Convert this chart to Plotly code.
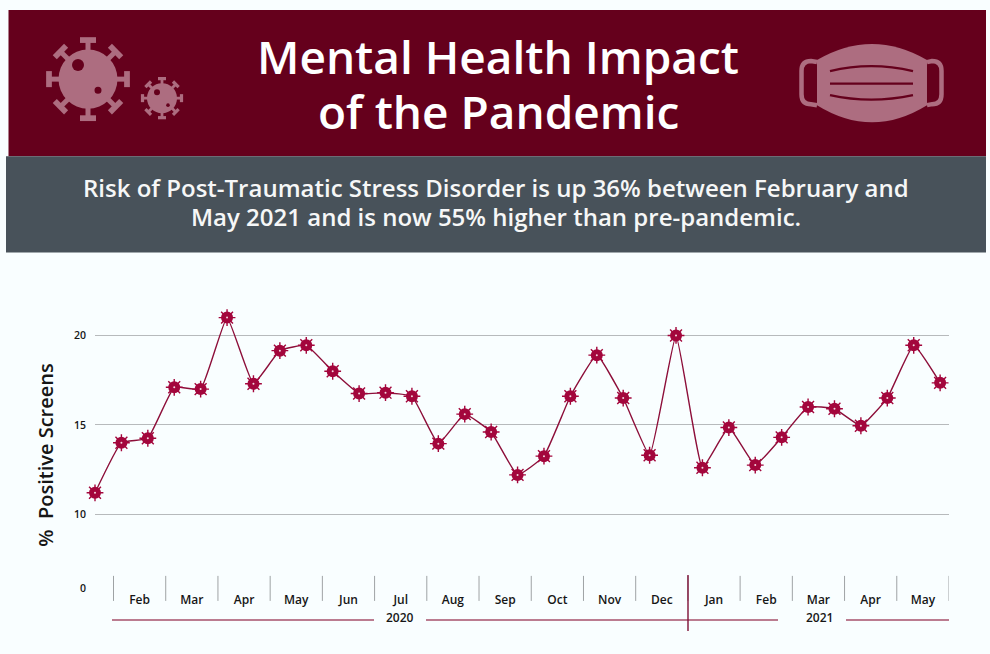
import math
import plotly.graph_objects as go

# ---- data ----
positive_screens = [11.2, 14.0, 14.25, 17.1, 17.0, 21.0, 17.3, 19.15, 19.45, 18.0, 16.75,
                    16.8, 16.6, 13.95, 15.6, 14.6, 12.2, 13.25, 16.6, 18.9, 16.5, 13.3,
                    20.0, 12.6, 14.85, 12.75, 14.3, 16.0, 15.9, 14.95, 16.5, 19.45, 17.35]
months = ["Feb", "Mar", "Apr", "May", "Jun", "Jul", "Aug", "Sep", "Oct", "Nov", "Dec",
          "Jan", "Feb", "Mar", "Apr", "May"]
y_tick_labels = ["0", "10", "15", "20"]
y_tick_values = [5.88, 10, 15, 20]   # the "0" sits on a broken axis
period_index = list(range(len(positive_screens)))

W, H = 990, 662
BG = "#f9feff"
MAROON = "#65001c"
SLATE = "#48525a"
ICON = "#ad6d80"
LINE = "#8d0f3a"
MARK = "#a3063c"
GRID = "#b7babc"
TXT = "#161616"
FONT = "Open Sans"


def px(x):
    return x / W


def py(y):
    return 1 - y / 654


def P(s):
    """pixel path -> paper path"""
    out = []
    for tok in s.split():
        if "," in tok:
            a, b = tok.split(",")
            out.append(f"{px(float(a)):.5f},{py(float(b)):.5f}")
        else:
            out.append(tok)
    return " ".join(out)


shapes = []


def rect(x0, y0, x1, y1, color):
    shapes.append(dict(type="rect", xref="paper", yref="paper", x0=px(x0), x1=px(x1),
                       y0=py(y1), y1=py(y0), fillcolor=color, line_width=0, layer="below"))


def circle(cx, cy, r, color):
    shapes.append(dict(type="circle", xref="paper", yref="paper", x0=px(cx - r), x1=px(cx + r),
                       y0=py(cy + r), y1=py(cy - r), fillcolor=color, line_width=0, layer="below"))


def stroke(path, color, width):
    shapes.append(dict(type="path", xref="paper", yref="paper", path=P(path),
                       line=dict(color=color, width=width), layer="below"))


def fill(path, color):
    shapes.append(dict(type="path", xref="paper", yref="paper", path=P(path),
                       fillcolor=color, line_width=0, layer="below"))


def virus(cx, cy, r, arm, cap, w, holes):
    for k in range(8):
        a = k * math.pi / 4
        c, s = math.cos(a), math.sin(a)
        stroke(f"M {cx + r * c * .9:.2f},{cy + r * s * .9:.2f} L {cx + arm * c:.2f},{cy + arm * s:.2f}", ICON, w)
        stroke(f"M {cx + arm * c - cap * s:.2f},{cy + arm * s + cap * c:.2f} "
               f"L {cx + arm * c + cap * s:.2f},{cy + arm * s - cap * c:.2f}", ICON, w * 1.15)
    circle(cx, cy, r, ICON)
    for hx, hy, hr in holes:
        circle(hx, hy, hr, MAROON)


rect(8.5, 10, 986, 156, MAROON)
rect(6, 156, 986, 252, SLATE)
virus(88, 79, 29.5, 39, 8, 5, [(78, 65, 6), (98, 90, 3.5)])
virus(162, 98, 15, 19.5, 4, 2.8, [(157, 92, 3), (168, 105, 1.8)])

# mask
stroke("M 817,62 L 811,61 Q 801.5,61 801.5,71 L 801.5,94 Q 801.5,104 811,104 L 817,105", ICON, 4.5)
stroke("M 927,62 L 932,61 Q 941.5,61 941.5,71 L 941.5,94 Q 941.5,104 932,104 L 927,105", ICON, 4.5)
fill("M 817,60 Q 872,28 927,60 L 927,105 Q 872,139 817,105 Z", ICON)
stroke("M 830,71 Q 871,61 913,71", MAROON, 2.4)
stroke("M 830,83.5 L 913,83.5", MAROON, 2.4)
stroke("M 830,95 Q 871,104 913,95", MAROON, 2.4)

X_DOM = [95 / W, 949 / W]
Y_DOM = [py(587), py(300)]
k_scale = (949 - 113.5) / 16
x2_range = [-(113.5 - 95) / k_scale, 16]


def x2(pix):
    return (pix - 113.5) / k_scale


# month separators
for k in range(17):
    shapes.append(dict(type="line", xref="x2", yref="paper", x0=k, x1=k, y0=py(600), y1=py(575),
                       line=dict(color="#9fa3a5", width=1)))
# year rules and year divider
for a, b in [(112, 374), (426, 778), (846, 950)]:
    shapes.append(dict(type="line", xref="x2", yref="paper", x0=x2(a), x1=x2(b), y0=py(619), y1=py(619),
                       line=dict(color="#a6506b", width=1.5)))
shapes.append(dict(type="line", xref="x2", yref="paper", x0=x2(688), x1=x2(688), y0=py(630), y1=py(574),
                   line=dict(color="#7e0f35", width=1.4)))

fig = go.Figure()
fig.add_trace(go.Scatter(x=period_index, y=positive_screens, mode="lines", cliponaxis=False,
                         line=dict(color=LINE, width=1.4, shape="spline", smoothing=0.35),
                         hoverinfo="skip", showlegend=False))
fig.add_trace(go.Scatter(x=period_index, y=positive_screens, mode="markers", cliponaxis=False,
                         marker=dict(symbol="asterisk-open", size=14, color=MARK, line=dict(color=MARK, width=1.4)),
                         hoverinfo="skip", showlegend=False))
fig.add_trace(go.Scatter(x=period_index, y=positive_screens, mode="markers", cliponaxis=False,
                         marker=dict(symbol="circle", size=12, color=MARK, line_width=0),
                         showlegend=False))
fig.add_trace(go.Scatter(x=period_index, y=positive_screens, mode="markers", cliponaxis=False,
                         marker=dict(symbol="circle", size=2, color="#f3d5de", line_width=0),
                         hoverinfo="skip", showlegend=False))
# carrier of the month axis
month_centres = [k + 0.5 for k in range(len(months))]
fig.add_trace(go.Scatter(x=month_centres, y=[10] * len(months), xaxis="x2", mode="markers",
                         marker=dict(opacity=0), hoverinfo="skip", showlegend=False))


def note(x, y, text, size, weight=400, color=TXT, angle=0, xref="paper"):
    return dict(x=x, y=py(y), xref=xref, yref="paper", text=text, showarrow=False, textangle=angle,
                font=dict(family=FONT, size=size, color=color, weight=weight),
                xanchor="center", yanchor="middle", bgcolor="rgba(0,0,0,0)")


annotations = [
    note(px(498), 56, "Mental Health Impact", 46, 600, "#ffffff"),
    note(px(498), 111, "of the Pandemic", 46, 600, "#ffffff"),
    note(px(496), 187, "Risk of Post-Traumatic Stress Disorder is up 36% between February and", 24, 600, "#f6f7f7"),
    note(px(496), 216, "May 2021 and is now 55% higher than pre-pandemic.", 24, 600, "#f6f7f7"),
    note(px(46), 455, "%  Positive Screens", 20, 600, TXT, -90),
    note(x2(400), 617, "2020", 12, 600, TXT, xref="x2"),
    note(x2(819), 617, "2021", 12, 600, TXT, xref="x2"),
]

fig.update_layout(
    width=W, height=H, margin=dict(l=0, r=0, t=0, b=0),
    paper_bgcolor=BG, plot_bgcolor="rgba(0,0,0,0)",
    font=dict(family=FONT, color=TXT),
    shapes=shapes, annotations=annotations, showlegend=False,
    xaxis=dict(domain=X_DOM, range=[0, (949 - 95) / 26.41], showgrid=False, zeroline=False,
               showticklabels=False, ticks="", fixedrange=True),
    xaxis2=dict(domain=X_DOM, range=x2_range, overlaying="x", anchor="y", side="bottom",
                tickmode="array", tickvals=month_centres, ticktext=months, showgrid=False, zeroline=False,
                ticks="", ticklabelstandoff=3,
                tickfont=dict(family=FONT, size=12, color=TXT, weight=600), fixedrange=True),
    yaxis=dict(domain=Y_DOM, range=[5.88, 5.88 + 287 / 17.85], tickmode="array",
               tickvals=y_tick_values, ticktext=y_tick_labels, showgrid=True, gridcolor=GRID, gridwidth=1,
               zeroline=False, ticks="outside", ticklen=6, tickcolor="rgba(0,0,0,0)",
               tickfont=dict(family=FONT, size=10.5, color=TXT, weight=600), fixedrange=True),
)
fig.write_html("out.html", config=dict(displayModeBar=False),
               post_script="document.body.style.margin='0';document.body.style.overflow='hidden';"
                           "document.body.style.background='" + BG + "';")
